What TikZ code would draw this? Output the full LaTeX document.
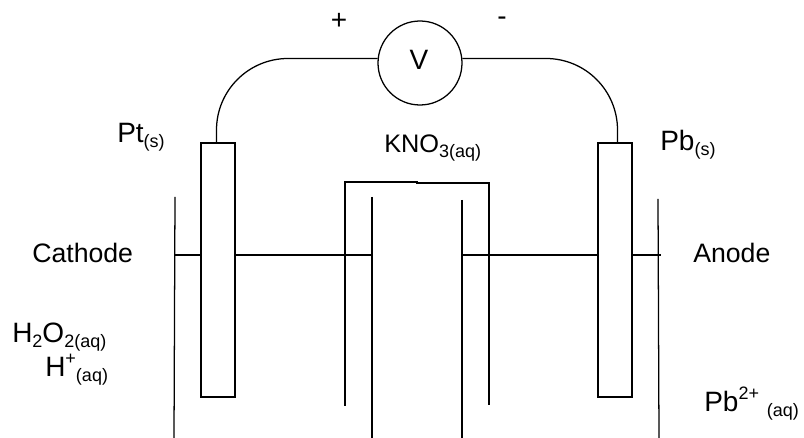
\documentclass[tikz,border=0pt]{standalone}
\usepackage{fontspec}
\setmainfont{Liberation Sans}
\tikzset{lbl/.style={inner sep=0pt,anchor=base west},
big/.style={inner sep=0pt,font=\fontsize{21}{24}\selectfont},
ln/.style={draw=black,line width=0.95pt},
elec/.style={ln,minimum width=25.5pt,minimum height=190.5pt,inner sep=0pt}}
\newcommand{\sbs}[1]{\raisebox{-3.6pt}{\fontsize{13.5}{16}\selectfont #1}}
\newcommand{\sps}[1]{\raisebox{9.5pt}{\fontsize{13.5}{16}\selectfont #1}}
\begin{document}
\begin{tikzpicture}[x=0.75pt,y=-0.75pt]
\useasboundingbox (0,0) rectangle (804,438);
\node[circle,ln,minimum size=63pt,inner sep=0pt] (v) at (420,63) {};
\node[big] at (419,60) {V};
\node[big] at (339,21) {+};
\node[big] at (502,21) {-};
\node[elec] (pt) at (218,270) {};
\node[elec] (pb) at (615,270) {};
\coordinate (ptw) at (216.5,143);
\coordinate (pbw) at (617.5,143);
\draw[ln] (ptw) -- (216.5,130) arc[start angle=180,end angle=270,radius=71.5] -- (v.174);
\draw[ln] (pbw) -- (617.5,130) arc[start angle=0,end angle=-90,radius=71.5] -- (v.6);
% beakers
\draw[ln] (175,197) -- (174,438);
\draw[ln] (658,199) -- (659,438);
\draw[ln] (175,255) -- (pt.west|-0,255);
\draw[ln] (pt.east|-0,255) -- (372,255);
\draw[ln] (461,255) -- (pb.west|-0,255);
\draw[ln] (pb.east|-0,255) -- (661,255);
\draw[ln] (372,197) -- (372,438);
\draw[ln] (462,200) -- (462,438);
% salt bridge
\draw[ln] (345,406) -- (345,182) -- (417,182) -- (417,183) -- (489,183) -- (489,405);
\node[lbl] at (117,143) {\fontsize{21}{24}\selectfont Pt\sbs{(s)}};
\node[lbl] at (660,151) {\fontsize{21}{24}\selectfont Pb\sbs{(s)}};
\node[lbl] at (384,153) {\fontsize{19}{22}\selectfont KNO\sbs{3(aq)}};
\node[lbl] at (32,263) {\fontsize{20}{22}\selectfont Cathode};
\node[lbl] at (693,263) {\fontsize{20}{22}\selectfont Anode};
\node[lbl] at (12,343) {\fontsize{21}{24}\selectfont H\sbs{2}O\sbs{2(aq)}};
\node[lbl] at (45,377) {\fontsize{21}{24}\selectfont H\sps{+}\sbs{(aq)}};
\node[lbl] at (704,412) {\fontsize{21}{24}\selectfont Pb\sps{2+} \sbs{(aq)}};
\end{tikzpicture}
\end{document}
